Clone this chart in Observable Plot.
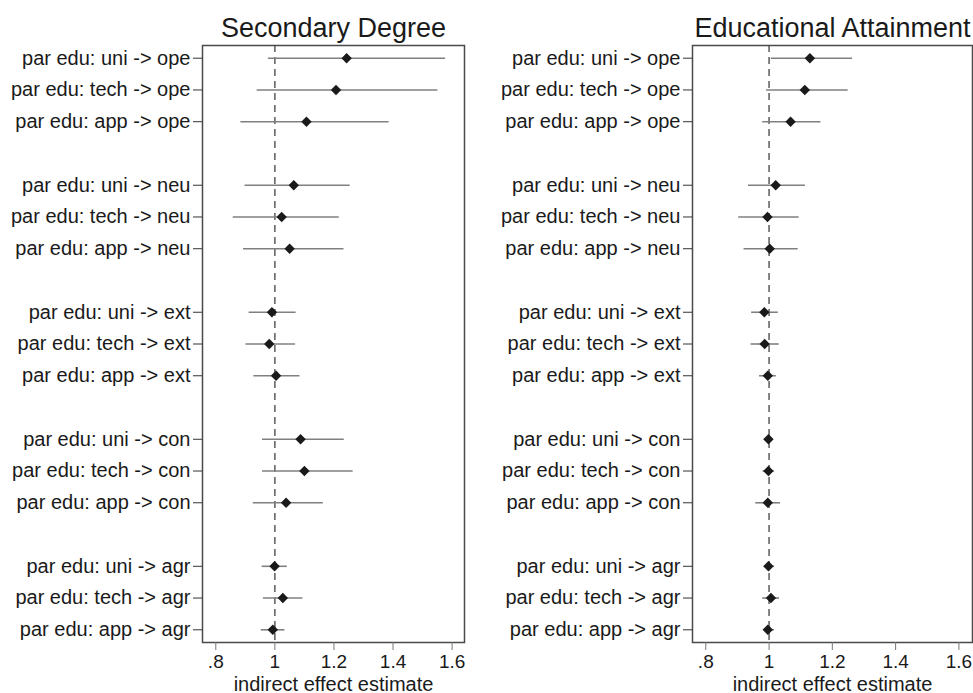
<!DOCTYPE html>
<html><head><meta charset="utf-8">
<script src="https://cdn.jsdelivr.net/npm/d3@7"></script>
<script src="https://cdn.jsdelivr.net/npm/@observablehq/plot@0.6"></script>
<style>
body{margin:0;background:#fff}
#wrap{display:flex;width:973px;height:693px;overflow:hidden}
</style>
</head><body><div id="wrap"></div>
<script>
const labels = [
  "par edu: uni -> ope","par edu: tech -> ope","par edu: app -> ope",
  "par edu: uni -> neu","par edu: tech -> neu","par edu: app -> neu",
  "par edu: uni -> ext","par edu: tech -> ext","par edu: app -> ext",
  "par edu: uni -> con","par edu: tech -> con","par edu: app -> con",
  "par edu: uni -> agr","par edu: tech -> agr","par edu: app -> agr"
];
const rowOrder = [
  labels[0],labels[1],labels[2],"gap1",
  labels[3],labels[4],labels[5],"gap2",
  labels[6],labels[7],labels[8],"gap3",
  labels[9],labels[10],labels[11],"gap4",
  labels[12],labels[13],labels[14]
];
const xTicks = [0.8, 1, 1.2, 1.4, 1.6];
const xLabel = "indirect effect estimate";

// Secondary Degree
const secEst = [1.243,1.207,1.107, 1.064,1.023,1.050, 0.990,0.981,1.004, 1.087,1.100,1.038, 0.999,1.027,0.993];
const secLo  = [0.978,0.940,0.885, 0.899,0.859,0.894, 0.913,0.902,0.929, 0.958,0.958,0.927, 0.957,0.961,0.954];
const secHi  = [1.578,1.552,1.387, 1.255,1.218,1.234, 1.072,1.070,1.085, 1.235,1.265,1.164, 1.042,1.095,1.034];

// Educational Attainment
const eduEst = [1.129,1.113,1.068, 1.021,0.995,1.002, 0.985,0.986,0.996, 0.998,0.998,0.996, 0.998,1.006,0.996];
const eduLo  = [1.007,0.992,0.980, 0.935,0.904,0.921, 0.945,0.943,0.970, 0.986,0.981,0.958, 0.985,0.980,0.985];
const eduHi  = [1.264,1.250,1.164, 1.115,1.095,1.092, 1.029,1.032,1.023, 1.012,1.017,1.036, 1.017,1.033,1.017];

const fmt = d => String(d).replace(/^0\./, ".");

function panel({title, est, lo, hi, width, marginLeft, marginRight, domain}) {
  const data = labels.map((l, i) => ({label: l, est: est[i], lo: lo[i], hi: hi[i]}));
  return Plot.plot({
    width, height: 693,
    marginTop: 45, marginBottom: 51, marginLeft, marginRight,
    style: {fontFamily: "'Liberation Sans', Arial, sans-serif", fontSize: "20px", background: "#fff", color: "#1a1a1a", overflow: "visible"},
    x: {domain},
    y: {type: "point", domain: rowOrder, padding: 0.4, round: false},
    marks: [
      Plot.ruleX([1], {stroke: "#666", strokeDasharray: "7,5", strokeWidth: 1.6}),
      Plot.ruleY(data, {y: "label", x1: "lo", x2: "hi", stroke: "#808080", strokeWidth: 1.6}),
      Plot.dot(data, {y: "label", x: "est", symbol: "diamond2", r: 4.7, fill: "#1a1a1a", stroke: null}),
      Plot.frame({stroke: "#4a4a4a", strokeWidth: 1.5}),
      Plot.axisY(labels, {tickSize: 9, tickPadding: 3, fontSize: 20, label: null, stroke: "#333"}),
      Plot.axisX(xTicks, {tickSize: 8, tickPadding: 4, tickFormat: fmt, fontSize: 19, label: null, stroke: "#777"}),
      Plot.text([title], {text: d => d, frameAnchor: "top", dy: -9, lineAnchor: "bottom", fontSize: 27}),
      Plot.text([xLabel], {text: d => d, frameAnchor: "bottom", dy: 48, lineAnchor: "bottom", fontSize: 20})
    ]
  });
}

const wrap = document.getElementById("wrap");
wrap.append(panel({title: "Secondary Degree", est: secEst, lo: secLo, hi: secHi,
  width: 480, marginLeft: 202, marginRight: 16, domain: [0.755, 1.642]}));
wrap.append(panel({title: "Educational Attainment", est: eduEst, lo: eduLo, hi: eduHi,
  width: 493, marginLeft: 212, marginRight: 1, domain: [0.758, 1.643]}));
</script>
</body></html>
